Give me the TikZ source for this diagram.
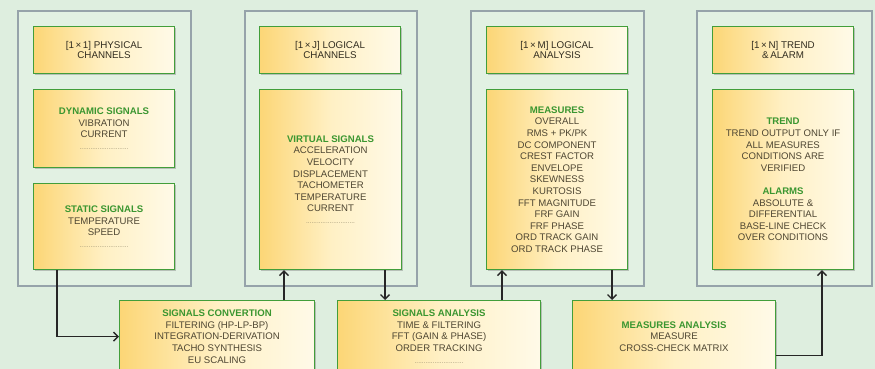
\documentclass[tikz,border=0pt]{standalone}
\usepackage{fontspec}
\setmainfont{Liberation Sans}
\usepackage{xcolor}
\usetikzlibrary{arrows.meta,shadows}
\definecolor{bgcol}{RGB}{222,238,223}
\definecolor{panelfill}{RGB}{226,241,227}
\definecolor{panelgray}{RGB}{150,163,170}
\definecolor{cardgreen}{RGB}{66,158,58}
\definecolor{cardL}{RGB}{252,214,118}
\definecolor{cardM}{RGB}{255,240,196}
\definecolor{cardR}{RGB}{255,250,232}
\definecolor{headgreen}{RGB}{58,150,48}
\definecolor{bodytxt}{RGB}{78,70,50}
\definecolor{titletxt}{RGB}{50,45,32}
\definecolor{dotcol}{RGB}{150,140,110}
\newcommand{\hdr}[1]{{\color{headgreen}\bfseries #1}}
\newcommand{\dotrow}{{\color{dotcol}\fontsize{6.5}{6}\selectfont ...........................}}

\begin{document}
\begin{tikzpicture}[x=1pt,y=-1pt,
  every node/.style={font=\fontsize{9.6}{11.6}\selectfont,text=bodytxt},
  panel/.style={draw=panelgray,line width=1.6pt,fill=panelfill,anchor=north west,inner sep=0pt,
    drop shadow={shadow xshift=1.5pt,shadow yshift=-1.5pt,opacity=.25,fill=black!50}},
  card/.style={draw=cardgreen,line width=1.1pt,left color=cardL,right color=cardR,middle color=cardM,
    anchor=north west,align=center,inner sep=0pt,
    drop shadow={shadow xshift=1.5pt,shadow yshift=-1.8pt,opacity=.35,fill=black!60}},
  titlecard/.style={card,minimum width=141pt,minimum height=47pt,text=titletxt,font=\fontsize{9.8}{10.6}\selectfont},
  flow/.style={draw=black!85,line width=1.4pt,-{Straight Barb[length=4.5pt,width=9pt]}}]
\useasboundingbox (0,0) rectangle (875,369);
\clip (0,0) rectangle (875,369);
\fill[bgcol] (0,0) rectangle (875,369);

\node[panel,minimum width=173pt,minimum height=275pt] (panel1) at (17,10) {};
\node[panel,minimum width=172pt,minimum height=275pt] (panel2) at (244,10) {};
\node[panel,minimum width=173pt,minimum height=275pt] (panel3) at (470,10) {};
\node[panel,minimum width=175pt,minimum height=275pt] (panel4) at (696,10) {};

\node[titlecard] (title1) at (33,26) {[1\,×\,1] PHYSICAL\\CHANNELS};
\node[titlecard] (title2) at (259,26) {[1\,×\,J] LOGICAL\\CHANNELS};
\node[titlecard] (title3) at (486,26) {[1\,×\,M] LOGICAL\\ANALYSIS};
\node[titlecard] (title4) at (712,26) {[1\,×\,N] TREND\\\&\,ALARM};

\node[card,minimum width=141pt,minimum height=78pt] (dynamic) at (33,89)
  {\hdr{DYNAMIC SIGNALS}\\VIBRATION\\CURRENT\\\dotrow};
\node[card,minimum width=141pt,minimum height=86pt] (static) at (33,183)
  {\hdr{STATIC SIGNALS}\\TEMPERATURE\\SPEED\\\dotrow};
\node[card,minimum width=142pt,minimum height=180pt] (virtual) at (259,89)
  {\hdr{VIRTUAL SIGNALS}\\ACCELERATION\\VELOCITY\\DISPLACEMENT\\TACHOMETER\\TEMPERATURE\\CURRENT\\\dotrow};
\node[card,minimum width=141pt,minimum height=180pt] (measures) at (486,89)
  {\hdr{MEASURES}\\OVERALL\\RMS + PK/PK\\DC COMPONENT\\CREST FACTOR\\ENVELOPE\\SKEWNESS\\KURTOSIS\\FFT MAGNITUDE\\FRF GAIN\\FRF PHASE\\ORD TRACK GAIN\\ORD TRACK PHASE};
\node[card,minimum width=141pt,minimum height=180pt] (trend) at (712,89)
  {\hdr{TREND}\\TREND OUTPUT ONLY IF\\ALL MEASURES\\CONDITIONS ARE\\VERIFIED\\[11.6pt]\hdr{ALARMS}\\ABSOLUTE \&\\DIFFERENTIAL\\BASE-LINE CHECK\\OVER CONDITIONS};

\node[card,minimum width=195pt,minimum height=72pt] (sigconv) at (119,300)
  {\hdr{SIGNALS CONVERTION}\\FILTERING (HP-LP-BP)\\INTEGRATION-DERIVATION\\TACHO SYNTHESIS\\EU SCALING};
\node[card,minimum width=203pt,minimum height=72pt] (sigana) at (337,300)
  {\hdr{SIGNALS ANALYSIS}\\TIME \& FILTERING\\FFT (GAIN \& PHASE)\\ORDER TRACKING\\\dotrow};
\node[card,minimum width=203pt,minimum height=72pt] (measana) at (572,300)
  {\hdr{MEASURES ANALYSIS}\\MEASURE\\CROSS-CHECK MATRIX};

\coordinate (a1) at ([xshift=24pt]static.south west);
\coordinate (a2) at ([xshift=25pt]virtual.south west);
\coordinate (a3) at ([xshift=126pt]virtual.south west);
\coordinate (a4) at ([xshift=16pt]measures.south west);
\coordinate (a5) at ([xshift=126pt]measures.south west);
\coordinate (a6) at ([xshift=110pt]trend.south west);
\draw[flow] (a1) |- (sigconv.west);
\draw[flow] (a2 |- sigconv.north) -- (a2);
\draw[flow] (a3) -- (a3 |- sigana.north);
\draw[flow] (a4 |- sigana.north) -- (a4);
\draw[flow] (a5) -- (a5 |- measana.north);
\draw[flow] ([yshift=-19pt]measana.east) -| (a6);
\end{tikzpicture}
\end{document}
